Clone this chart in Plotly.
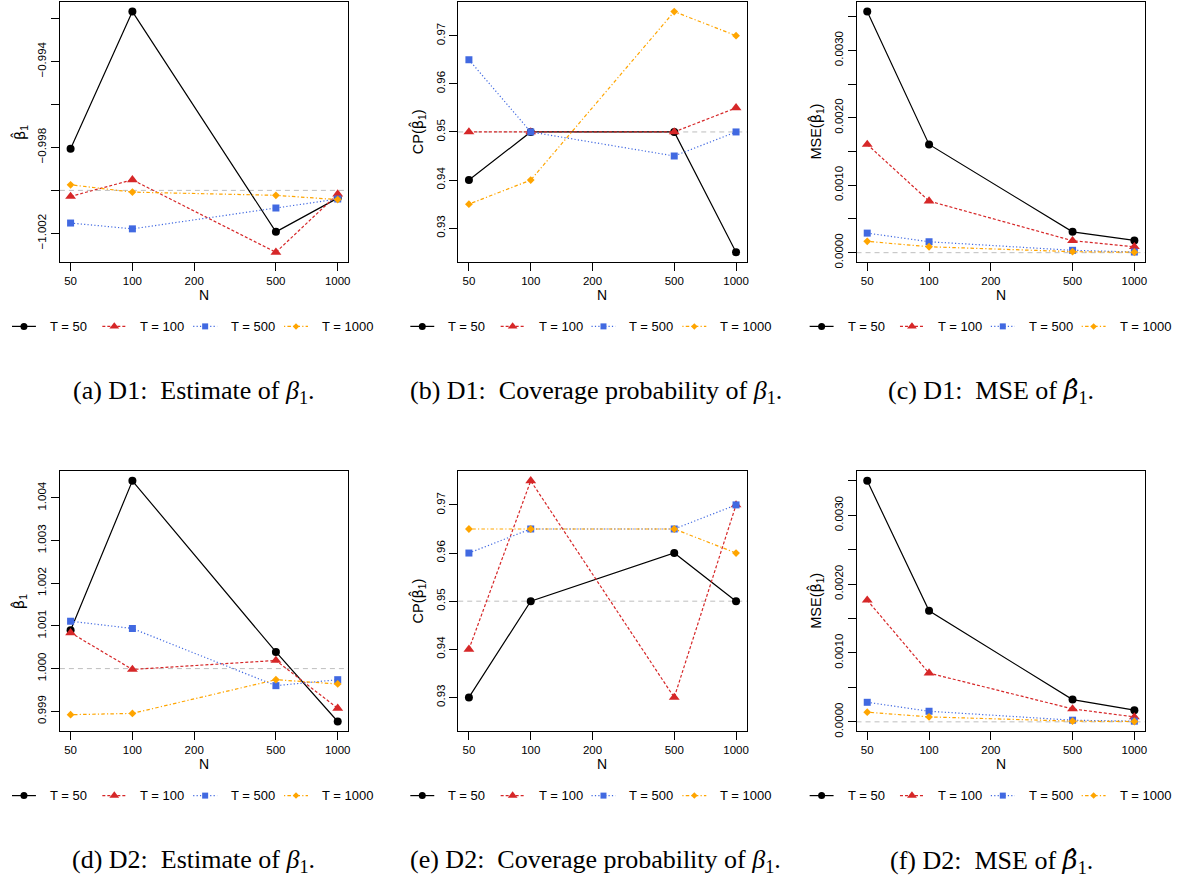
import math
import plotly.graph_objects as go

# ---------------------------------------------------------------- data
N_values = [50, 100, 500, 1000]
N_ticks = [50, 100, 200, 500, 1000]
N_tick_text = ["50", "100", "200", "500", "1000"]
T_labels = ["T = 50", "T = 100", "T = 500", "T = 1000"]

# D1: estimates of beta_1 (true value -1)
d1_est_T50 = [-0.99806, -0.99168, -1.00193, -1.00036]
d1_est_T100 = [-1.00028, -0.99951, -1.00288, -1.00017]
d1_est_T500 = [-1.00152, -1.00179, -1.00082, -1.00040]
d1_est_T1000 = [-0.99974, -1.00008, -1.00023, -1.00043]

# D1: coverage probability
d1_cp_T50 = [0.940, 0.950, 0.950, 0.925]
d1_cp_T100 = [0.950, 0.950, 0.950, 0.955]
d1_cp_T500 = [0.965, 0.950, 0.945, 0.950]
d1_cp_T1000 = [0.935, 0.940, 0.975, 0.970]

# D1: MSE
d1_mse_T50 = [0.003574, 0.001605, 0.000309, 0.000182]
d1_mse_T100 = [0.001605, 0.000766, 0.000177, 0.000088]
d1_mse_T500 = [0.000290, 0.000162, 0.000035, 0.000010]
d1_mse_T1000 = [0.000168, 0.000088, 0.000015, 0.000006]

# D2: estimates of beta_1 (true value 1)
d2_est_T50 = [1.00090, 1.00440, 1.00039, 0.99876]
d2_est_T100 = [1.00084, 0.99998, 1.00019, 0.99907]
d2_est_T500 = [1.00111, 1.00094, 0.99960, 0.99974]
d2_est_T1000 = [0.99892, 0.99895, 0.99974, 0.99964]

# D2: coverage probability
d2_cp_T50 = [0.930, 0.950, 0.960, 0.950]
d2_cp_T100 = [0.940, 0.975, 0.930, 0.970]
d2_cp_T500 = [0.960, 0.965, 0.965, 0.970]
d2_cp_T1000 = [0.965, 0.965, 0.965, 0.960]

# D2: MSE
d2_mse_T50 = [0.003500, 0.001613, 0.000323, 0.000169]
d2_mse_T100 = [0.001767, 0.000708, 0.000188, 0.000072]
d2_mse_T500 = [0.000284, 0.000154, 0.000024, 0.000010]
d2_mse_T1000 = [0.000140, 0.000072, 0.000010, 0.000005]

# y-axis ticks (labelled ticks and unlabelled in-between ticks)
est1_ticks = [-0.994, -0.998, -1.002]
est1_tick_text = ["\u22120.994", "\u22120.998", "\u22121.002"]
est1_minor = [-0.992, -0.996, -1.000]
est2_ticks = [0.999, 1.000, 1.001, 1.002, 1.003, 1.004]
est2_tick_text = ["0.999", "1.000", "1.001", "1.002", "1.003", "1.004"]
cp_ticks = [0.93, 0.94, 0.95, 0.96, 0.97]
cp_tick_text = ["0.93", "0.94", "0.95", "0.96", "0.97"]
mse_ticks = [0.0, 0.0010, 0.0020, 0.0030]
mse_tick_text = ["0.0000", "0.0010", "0.0020", "0.0030"]
mse_minor = [0.0005, 0.0015, 0.0025, 0.0035]
cp_limits = [0.925, 0.975]

# ---------------------------------------------------------------- layout constants
W, H = 1180, 879
COLS = [(60, 349), (459, 748), (858, 1147)]     # plot box left/right (px)
ROWS = [(2, 264), (475, 737)]                   # plot box top/bottom (px)
LEGEND_START = [12, 411, 811]
LEGEND_OFFSETS = [0, 90.5, 181.5, 272.5]
LEGEND_KEY_LEN = 24
LEGEND_TEXT_GAP = 36
CAPTION_X = [194, 597, 993]
TICK_LEN = 8

SANS = "Liberation Sans, Arial, sans-serif"
SERIF = "Liberation Serif, Times New Roman, serif"
HAT_FONT = "font-family:DejaVu Sans"
HAT_FONT_SERIF = "font-family:DejaVu Serif;font-style:italic"

STYLES = [
    dict(color="#000000", dash="solid", symbol="circle", size=8),
    dict(color="#D62728", dash="3px,2px", symbol="triangle-up", size=9.5),
    dict(color="#4169E1", dash="1.2px,2.2px", symbol="square", size=7),
    dict(color="#FFA500", dash="1.2px,2.2px,3.5px,2.2px", symbol="diamond", size=6),
]


def padded(lo, hi, frac=0.04):
    span = hi - lo
    return [lo - frac * span, hi + frac * span]


BETA_HAT = "<span style='" + HAT_FONT + "'>\u03b2\u0302</span><sub>1</sub>"
BETA_HAT_IT = "<span style='" + HAT_FONT_SERIF + "'>\u03b2\u0302</span><sub>1</sub>"
BETA_IT = "<i>\u03b2</i><sub>1</sub>"

panels = [
    dict(series=[d1_est_T50, d1_est_T100, d1_est_T500, d1_est_T1000],
         ticks=est1_ticks, tick_text=est1_tick_text, minor=est1_minor, ref=-1.0,
         limits=None, ytitle=BETA_HAT,
         caption="(a) D1:  Estimate of " + BETA_IT + "."),
    dict(series=[d1_cp_T50, d1_cp_T100, d1_cp_T500, d1_cp_T1000],
         ticks=cp_ticks, tick_text=cp_tick_text, minor=None, ref=0.95,
         limits=cp_limits, ytitle="CP(" + BETA_HAT + ")",
         caption="(b) D1:  Coverage probability of " + BETA_IT + "."),
    dict(series=[d1_mse_T50, d1_mse_T100, d1_mse_T500, d1_mse_T1000],
         ticks=mse_ticks, tick_text=mse_tick_text, minor=mse_minor, ref=0.0,
         limits=None, ytitle="MSE(" + BETA_HAT + ")",
         caption="(c) D1:  MSE of " + BETA_HAT_IT + "."),
    dict(series=[d2_est_T50, d2_est_T100, d2_est_T500, d2_est_T1000],
         ticks=est2_ticks, tick_text=est2_tick_text, minor=None, ref=1.0,
         limits=None, ytitle=BETA_HAT,
         caption="(d) D2:  Estimate of " + BETA_IT + "."),
    dict(series=[d2_cp_T50, d2_cp_T100, d2_cp_T500, d2_cp_T1000],
         ticks=cp_ticks, tick_text=cp_tick_text, minor=None, ref=0.95,
         limits=cp_limits, ytitle="CP(" + BETA_HAT + ")",
         caption="(e) D2:  Coverage probability of " + BETA_IT + "."),
    dict(series=[d2_mse_T50, d2_mse_T100, d2_mse_T500, d2_mse_T1000],
         ticks=mse_ticks, tick_text=mse_tick_text, minor=mse_minor, ref=0.0,
         limits=None, ytitle="MSE(" + BETA_HAT + ")",
         caption="(f) D2:  MSE of " + BETA_HAT_IT + "."),
]

x_range = padded(math.log10(min(N_values)), math.log10(max(N_values)))

fig = go.Figure()
layout = dict(width=W, height=H, margin=dict(l=0, r=0, t=0, b=0),
              paper_bgcolor="white", plot_bgcolor="rgba(0,0,0,0)", showlegend=False)
annotations = []
shapes = []

for k, p in enumerate(panels):
    r, c = divmod(k, 3)
    left, right = COLS[c]
    top, bottom = ROWS[r]
    ax = "" if k == 0 else str(k + 1)
    xa, ya = "x" + ax, "y" + ax

    for vals, st, name in zip(p["series"], STYLES, T_labels):
        fig.add_trace(go.Scatter(
            x=N_values, y=vals, name=name, xaxis=xa, yaxis=ya,
            mode="lines+markers", cliponaxis=False,
            line=dict(color=st["color"], dash=st["dash"], width=1.2),
            marker=dict(color=st["color"], symbol=st["symbol"], size=st["size"], line=dict(width=0)),
        ))

    all_vals = [v for s in p["series"] for v in s]
    lim = p["limits"] if p["limits"] else [min(all_vals), max(all_vals)]
    y_range = padded(lim[0], lim[1])

    layout["xaxis" + ax] = dict(
        domain=[left / W, right / W], anchor=ya, type="log", range=x_range,
        tickvals=N_ticks, ticktext=N_tick_text, ticks="outside", ticklen=TICK_LEN,
        tickwidth=1, tickcolor="#000", showgrid=False, zeroline=False,
        showline=True, linecolor="#000", linewidth=1, mirror=True,
        tickfont=dict(family=SANS, size=11.5, color="#000"), fixedrange=True)
    yaxis = dict(
        domain=[1 - bottom / H, 1 - top / H], anchor=xa, range=y_range,
        tickvals=p["ticks"], ticktext=p["tick_text"], ticks="outside", ticklen=TICK_LEN,
        tickwidth=1, tickcolor="#000", tickangle=-90, showgrid=False, zeroline=False,
        showline=True, linecolor="#000", linewidth=1, mirror=True,
        tickfont=dict(family=SANS, size=11.5, color="#000"), fixedrange=True)
    if p["minor"]:
        yaxis["minor"] = dict(tickmode="array", tickvals=p["minor"], ticks="outside",
                              ticklen=TICK_LEN, tickwidth=1, tickcolor="#000",
                              showgrid=False)
    layout["yaxis" + ax] = yaxis

    # reference line at the target value
    shapes.append(dict(type="line", xref=xa + " domain", x0=0, x1=1, yref=ya,
                       y0=p["ref"], y1=p["ref"], layer="below",
                       line=dict(color="#BEBEBE", width=1, dash="5px,4px")))

    # axis titles
    annotations.append(dict(text="N", xref="paper", yref="paper",
                            x=(left + right) / 2 / W, y=1 - (bottom + 33) / H,
                            showarrow=False, xanchor="center", yanchor="middle",
                            font=dict(family=SANS, size=14, color="#000")))
    annotations.append(dict(text=p["ytitle"], xref="paper", yref="paper",
                            x=(left - 40) / W, y=1 - (top + bottom) / 2 / H,
                            textangle=-90, showarrow=False, xanchor="center",
                            yanchor="middle",
                            font=dict(family=SANS, size=14.5, color="#000")))

    # legend below the panel
    leg_y = bottom + 65
    s0 = LEGEND_START[c]
    for off, st, name in zip(LEGEND_OFFSETS, STYLES, T_labels):
        x0 = s0 + off
        fig.add_trace(go.Scatter(
            x=[x0, x0 + LEGEND_KEY_LEN], y=[leg_y, leg_y], xaxis="x7", yaxis="y7",
            mode="lines", hoverinfo="skip", cliponaxis=False,
            line=dict(color=st["color"], dash=st["dash"], width=1.2)))
        fig.add_trace(go.Scatter(
            x=[x0 + LEGEND_KEY_LEN / 2], y=[leg_y], xaxis="x7", yaxis="y7",
            mode="markers", hoverinfo="skip", cliponaxis=False,
            marker=dict(color=st["color"], symbol=st["symbol"], size=st["size"] - 1,
                        line=dict(width=0))))
        annotations.append(dict(text=name, xref="paper", yref="paper",
                                x=(x0 + LEGEND_TEXT_GAP) / W, y=1 - leg_y / H,
                                showarrow=False, xanchor="left", yanchor="middle",
                                font=dict(family=SANS, size=13, color="#000")))

    # sub-figure caption
    annotations.append(dict(text=p["caption"], xref="paper", yref="paper",
                            x=CAPTION_X[c] / W, y=1 - (bottom + 131) / H,
                            showarrow=False, xanchor="center", yanchor="middle",
                            font=dict(family=SERIF, size=26, color="#000")))

# full-page pixel axis used for the legend keys
layout["xaxis7"] = dict(domain=[0, 1], range=[0, W], visible=False, fixedrange=True, anchor="y7")
layout["yaxis7"] = dict(domain=[0, 1], range=[H, 0], visible=False, fixedrange=True, anchor="x7")
layout["annotations"] = annotations
layout["shapes"] = shapes
fig.update_layout(**layout)

fig.write_html("out.html")
